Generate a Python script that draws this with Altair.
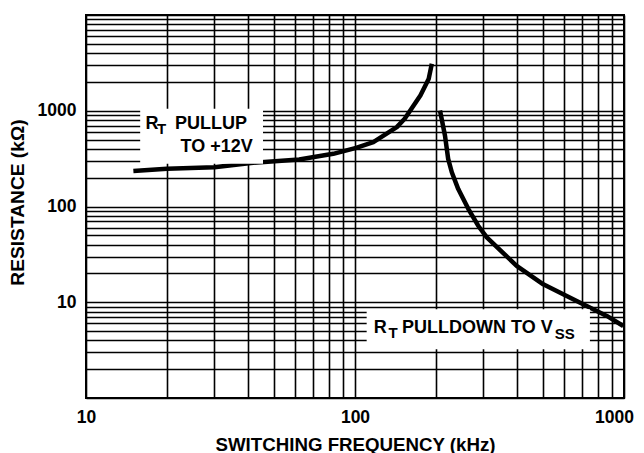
import altair as alt
import pandas as pd

# Curves (frequency in kHz, resistance in kOhm)
pullup_freq = [15, 20, 30, 41, 62, 83, 101, 117, 143, 153, 175, 188, 193]
pullup_res = [235, 248, 257, 285, 310, 355, 410, 470, 675, 825, 1447, 2163, 3100]
pulldown_freq = [207, 216, 222, 229, 242, 264, 287, 309, 399, 501, 667, 863, 994]
pulldown_res = [1007, 551, 314, 228, 152, 94, 63, 47.5, 24, 15.4, 10.3, 7.2, 5.65]

# Grid values
x_grid = [10, 20, 30, 40, 50, 60, 70, 80, 90,
          100, 200, 300, 400, 500, 600, 700, 800, 900, 1000]
y_grid = [1, 2, 3, 4, 5, 6, 7, 8, 9,
          10, 20, 30, 40, 50, 60, 70, 80, 90,
          100, 200, 300, 400, 500, 600, 700, 800, 900,
          1000, 2000, 3000, 4000, 5000, 6000, 7000, 8000, 9000, 10000]

# Label boxes (white background)
box_x1 = [15.9, 110.5]
box_x2 = [45.5, 747]
box_y1 = [279, 3.22]
box_y2 = [1049, 8.45]

# Annotation texts
main_text = ["R", "PULLUP", "TO +12V", "R", "PULLDOWN TO V"]
main_x = [16.64, 21.42, 22.45, 117.4, 149.5]
main_y = [648, 648, 369.5, 4.82, 4.82]
sub_text = ["T", "T", "SS"]
sub_x = [18.37, 133.2, 553]
sub_y = [574, 4.27, 4.17]

curves = pd.DataFrame({
    "freq": pullup_freq + pulldown_freq,
    "res": pullup_res + pulldown_res,
    "curve": ["pullup"] * len(pullup_freq) + ["pulldown"] * len(pulldown_freq),
})
boxes = pd.DataFrame({"x1": box_x1, "x2": box_x2, "y1": box_y1, "y2": box_y2})
mains = pd.DataFrame({"t": main_text, "x": main_x, "y": main_y})
subs = pd.DataFrame({"t": sub_text, "x": sub_x, "y": sub_y})

FONT = "Liberation Sans"
LABELS = "(datum.value == 10 || datum.value == 100 || datum.value == 1000) ? '' + datum.value : ''"

xscale = alt.Scale(type="log", domain=[10, 1000], nice=False)
yscale = alt.Scale(type="log", domain=[1, 10000], nice=False)

xaxis = alt.Axis(
    values=x_grid, grid=True, ticks=False, domain=False,
    labelExpr=LABELS,
    labelOverlap=False, labelFont=FONT, labelFontWeight="bold", labelFontSize=17.5,
    labelColor="black", labelPadding=10, labelFlush=False,
    labelOffset={"expr": "datum.value == 1000 ? -10 : 0"},
    title="SWITCHING FREQUENCY (kHz)", titleFont=FONT, titleFontWeight="bold",
    titleFontSize=18.7, titleColor="black", titleX=269, titleY=52,
    titleBaseline="alphabetic", titleAlign="center",
    gridColor="black", gridWidth=1.6, gridOpacity=1,
)
yaxis = alt.Axis(
    values=y_grid, grid=True, ticks=False, domain=False,
    labelExpr=LABELS,
    labelOverlap=False, labelFont=FONT, labelFontWeight="bold", labelFontSize=17.5,
    labelColor="black", labelPadding=10, labelFlush=False,
    title="RESISTANCE (kΩ)", titleFont=FONT, titleFontWeight="bold",
    titleFontSize=19.2, titleColor="black", titleX=-63, titleY=187,
    titleBaseline="alphabetic", titleAlign="center", titleAngle=270,
    gridColor="black", gridWidth=1.6, gridOpacity=1,
)

base_line = alt.Chart(curves).mark_line(
    color="black", strokeWidth=4.5, strokeCap="butt", strokeJoin="round"
).encode(
    x=alt.X("freq:Q", scale=xscale, axis=xaxis),
    y=alt.Y("res:Q", scale=yscale, axis=yaxis),
    detail="curve:N",
)

box_layer = alt.Chart(boxes).mark_rect(color="white", opacity=1).encode(
    x=alt.X("x1:Q", scale=xscale), x2="x2:Q",
    y=alt.Y("y1:Q", scale=yscale), y2="y2:Q",
)

main_layer = alt.Chart(mains).mark_text(
    font=FONT, fontWeight="bold", fontSize=18, align="left",
    baseline="alphabetic", color="black"
).encode(
    x=alt.X("x:Q", scale=xscale), y=alt.Y("y:Q", scale=yscale), text="t:N"
)

sub_layer = alt.Chart(subs).mark_text(
    font=FONT, fontWeight="bold", fontSize=15, align="left",
    baseline="alphabetic", color="black"
).encode(
    x=alt.X("x:Q", scale=xscale), y=alt.Y("y:Q", scale=yscale), text="t:N"
)

chart = alt.layer(base_line, box_layer, main_layer, sub_layer).properties(
    width=538, height=383,
    autosize=alt.AutoSizeParams(type="none"),
    padding={"left": 78, "top": 7, "right": 12, "bottom": 56},
    background="white",
).configure_view(stroke="black", strokeWidth=2)

chart.save("out.html", embed_options={"renderer": "svg", "actions": False})
